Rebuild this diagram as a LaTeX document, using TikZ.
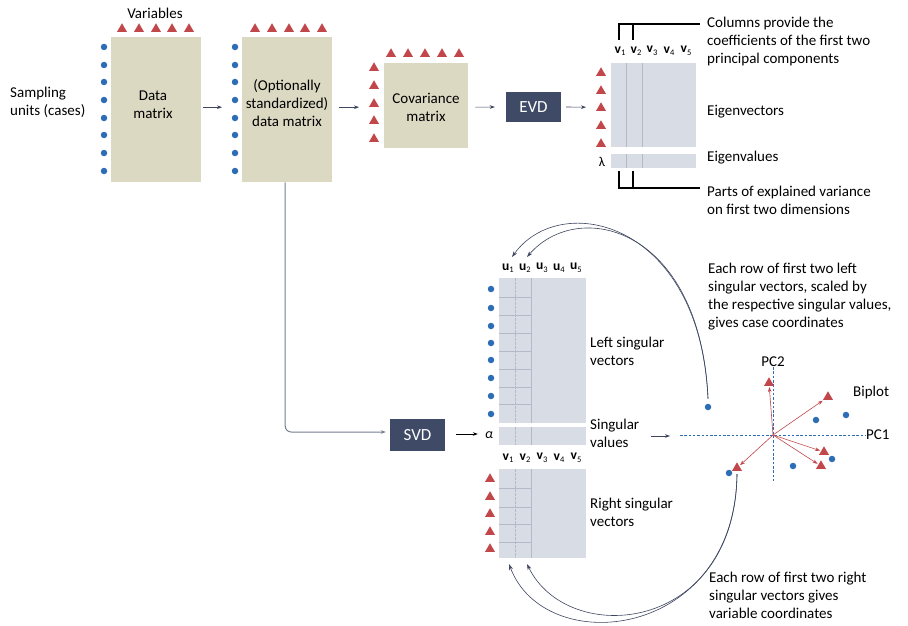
\documentclass[tikz,border=0pt]{standalone}
\usepackage{fontspec}
\setmainfont{Carlito}
\usetikzlibrary{arrows.meta,shapes.geometric}
\definecolor{beige}{HTML}{DCD9C3}
\definecolor{tric}{HTML}{C1474B}
\definecolor{dotc}{HTML}{2D6DB5}
\definecolor{matc}{HTML}{D8DCE5}
\definecolor{gridc}{HTML}{B3B9C6}
\definecolor{boxc}{HTML}{3F4A66}
\definecolor{arrc}{HTML}{3D4560}
\newcommand{\vlab}[2]{\textbf{#1}\raisebox{-2.5pt}{\fontsize{8.5}{9}\selectfont #2}}
\begin{document}
\begin{tikzpicture}[x=1pt,y=-1pt,
  tri/.style={regular polygon,regular polygon sides=3,fill=tric,inner sep=0pt,minimum size=11.5pt},
  dot/.style={circle,fill=dotc,inner sep=0pt,minimum size=6.5pt},
  txt/.style={font=\fontsize{15}{18}\selectfont,inner sep=0pt,align=left,anchor=west},
  ctxt/.style={font=\fontsize{15}{18}\selectfont,inner sep=0pt,align=center},
  lab/.style={font=\fontsize{13.5}{14}\selectfont,inner sep=0pt},
  mat/.style={fill=#1,inner sep=0pt,anchor=north west},
  dbox/.style={fill=boxc,text=white,inner sep=0pt,font=\fontsize{17}{18}\selectfont},
  arr/.style={draw=arrc,line width=0.6pt,-{Stealth[length=5pt,width=3.6pt]}},
  curve/.style={draw=arrc,line width=0.6pt,-{Stealth[length=6pt,width=4pt]}},
  redarr/.style={draw=tric,line width=0.6pt,shorten >=1pt,-{Stealth[length=5pt,width=3.6pt]}},
  axis/.style={draw=dotc,line width=0.6pt,dash pattern=on 2.5pt off 1.8pt},
  grid/.style={draw=gridc,line width=0.7pt},
  brk/.style={draw=black,line width=1.1pt}]
\useasboundingbox (0,0) rectangle (908,626);

% ---------- top row ----------
\node[mat=beige,minimum width=90pt,minimum height=145pt] (dm) at (111,37) {};
\node[mat=beige,minimum width=90pt,minimum height=145pt] (sm) at (242,37) {};
\node[mat=beige,minimum width=84pt,minimum height=85pt] (cm) at (384,63) {};
\node[dbox,minimum width=55pt,minimum height=30pt] (evd) at (533.5,107) {EVD};
\node[mat=matc,minimum width=85pt,minimum height=84pt] (ev) at (611,63) {};
\node[mat=matc,minimum width=85pt,minimum height=14pt] (lam) at (611,154) {};

\node[ctxt] (var) at (155,13) {Variables};
\node[txt] (samp) at (10,102) {Sampling\\units (cases)};
\node[ctxt] (dmt) at (153,105) {Data\\matrix};
\node[ctxt] (smt) at (287,103) {(Optionally\\standardized)\\data matrix};
\node[ctxt] (cmt) at (426,107) {Covariance\\matrix};

\foreach \y [count=\i] in {47,65,82,100,118,135,153,171}{
  \node[dot] (dd\i) at (104,\y) {};
  \node[dot] (sd\i) at (235,\y) {};
}
\foreach \x [count=\i] in {122,139,156,172,189}{ \node[tri] (dt\i) at (\x,29) {}; }
\foreach \x [count=\i] in {255,272,289,305,322}{ \node[tri] (st\i) at (\x,29) {}; }
\foreach \x [count=\i] in {391,408,425,442,459}{ \node[tri] (ct\i) at (\x,54) {}; }
\foreach \y [count=\i] in {68,86,104,121,139}{ \node[tri] (cl\i) at (374,\y) {}; }
\foreach \y [count=\i] in {73,91,108,126,144}{ \node[tri] (el\i) at (601,\y) {}; }

\draw[arr] ([xshift=2pt,yshift=2.5pt]dm.east) -- ([xshift=-20pt,yshift=2.5pt]sm.west);
\draw[arr] ([xshift=7pt,yshift=2.5pt]sm.east) -- ([xshift=-25pt,yshift=-1.5pt]cm.west);
\draw[arr] ([xshift=7pt,yshift=-1.5pt]cm.east) -- ([xshift=-11pt]evd.west);
\draw[arr] ([xshift=5pt]evd.east) -- ([xshift=-25pt,yshift=-2pt]ev.west);

% eigen matrix lines
\draw[grid] (626,63) -- (626,147);
\draw[grid] (642,63) -- (642,147);
\draw[grid] (626,154) -- (626,168);
\draw[grid] (642,154) -- (642,168);
\node[lab] (lamt) at (602,162) {λ};
\foreach \x/\n in {620/1,636/2,652/3,669/4,686/5}{ \node[lab] (evl\n) at (\x,51) {\vlab{v}{\n}}; }

\draw[brk] (619,40) -- (619,24) -- (700,24);
\draw[brk] (633,40) -- (633,24);
\draw[brk] (619,171) -- (619,188) -- (700,188);
\draw[brk] (633,171) -- (633,188);
\node[txt] (colt) at (707,42) {Columns provide the\\coefficients of the first two\\principal components};
\node[txt] (eigv) at (707,112) {Eigenvectors};
\node[txt] (eigl) at (707,158) {Eigenvalues};
\node[txt] (part) at (707,200) {Parts of explained variance\\on first two dimensions};

% ---------- SVD ----------
\node[dbox,minimum width=55pt,minimum height=32pt] (svd) at (417.5,435) {SVD};
\draw[draw=arrc!70,line width=1pt,rounded corners=6pt,-{Stealth[length=5pt,width=3.6pt]}]
  ([xshift=-2pt]sm.south) |- ([xshift=-4pt,yshift=3pt]svd.west);
\node[lab,font=\fontsize{14}{14}\selectfont\itshape] (alpha) at (489,435) {α};
\draw[draw=black,line width=0.8pt,-{Stealth[length=5pt,width=3.6pt]}] ([xshift=11pt,yshift=1pt]svd.east) -- ([xshift=-7pt,yshift=1pt]alpha.west);

% U matrix
\node[mat=matc,minimum width=87pt,minimum height=145pt] (um) at (499,278) {};
\node[mat=matc,minimum width=87pt,minimum height=18pt] (am) at (499,427) {};
\node[mat=matc,minimum width=87pt,minimum height=89pt] (vm) at (499,469) {};
\foreach \y in {297,315,333,351,369,387,404}{ \draw[grid] (499,\y) -- (531,\y); }
\foreach \y in {488,507,524,542}{ \draw[grid] (499,\y) -- (531,\y); }
\foreach \a/\b in {278/423,427/445,469/558}{
  \draw[grid,dash pattern=on 2.5pt off 1.5pt] (515,\a) -- (515,\b);
  \draw[grid] (531,\a) -- (531,\b);
}
\foreach \x/\n in {508/1,525/2,542/3,559/4,576/5}{
  \node[lab] (ul\n) at (\x,268) {\vlab{u}{\n}};
  \node[lab] (vl\n) at (\x,458) {\vlab{v}{\n}};
}
\foreach \y [count=\i] in {289,308,326,343,360,378,396,414}{ \node[dot] (ud\i) at (491,\y) {}; }
\foreach \y [count=\i] in {479,497,514,532,549}{ \node[tri] (vt\i) at (490,\y) {}; }

\node[txt] (lsv) at (590,351) {Left singular\\vectors};
\node[txt] (sv) at (590,433) {Singular\\values};
\node[txt] (rsv) at (590,512) {Right singular\\vectors};

% ---------- biplot ----------
\coordinate (bc) at (773,435);
\node[txt] (pc1) at (866,435) {PC1};
\node[ctxt] (pc2) at (773,362) {PC2};
\node[txt] (bip) at (853,392) {Biplot};
\draw[axis] (680,435) -- (pc1.west);
\draw[axis] (pc2.south) -- (773,483);
\draw[arr] ([xshift=12pt,yshift=-3pt]sv.east) -- (670,436);

\node[tri] (bt1) at (769,383) {};
\node[tri] (bt2) at (828,397) {};
\node[tri] (bt3) at (824,452) {};
\node[tri] (bt4) at (821,466) {};
\node[tri] (bt5) at (737,468) {};
\foreach \i in {1,...,5}{ \draw[redarr] (bc) -- (bt\i); }
\node[dot] (bd1) at (708,407) {};
\node[dot] (bd2) at (816,420) {};
\node[dot] (bd3) at (846,415) {};
\node[dot] (bd4) at (832,459) {};
\node[dot] (bd5) at (793,466) {};
\node[dot] (bd6) at (729,473) {};

\node[txt] (lefttxt) at (708,297) {Each row of first two left\\singular vectors, scaled by\\the respective singular values,\\gives case coordinates};
\node[txt] (righttxt) at (709,595) {Each row of first two right\\singular vectors gives\\variable coordinates};

% curves
\coordinate (u1t) at (512,257);
\coordinate (u2t) at (527,257);
\coordinate (v1t) at (509,564);
\coordinate (v2t) at (527,564);
\draw[curve] ([yshift=5pt]bd1.north) .. controls (700,220) and (560,190) .. (u1t);
\draw[curve] ([yshift=5pt]bd1.north) .. controls (700,226) and (578,198) .. (u2t);
\draw[curve] ([yshift=-3pt]bt5.south) .. controls (735,640) and (545,660) .. (v1t);
\draw[curve] ([yshift=-3pt]bt5.south) .. controls (735,634) and (568,648) .. (v2t);
\end{tikzpicture}
\end{document}
